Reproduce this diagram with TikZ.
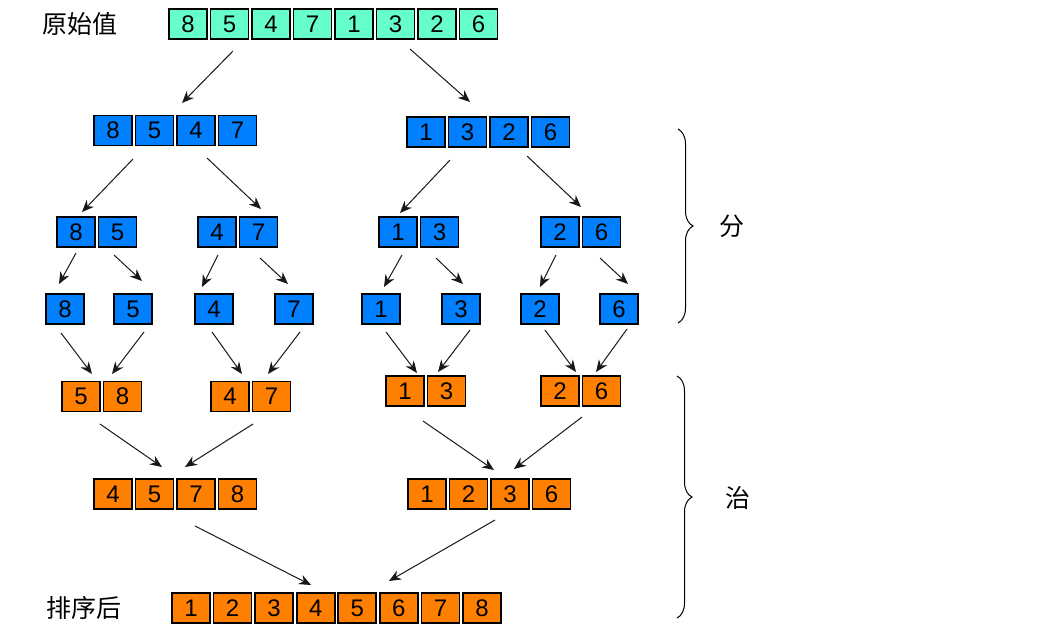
\documentclass[tikz,border=0pt]{standalone}
\usepackage{tikz}
\usetikzlibrary{
  arrows.meta,
  positioning,
  decorations.pathreplacing
}
\usepackage{xcolor}
\usepackage{fontspec}
\setmainfont{Liberation Sans}
\newfontfamily\cjk{Noto Sans CJK SC}
\definecolor{origTeal}{RGB}{102,255,204}
\definecolor{splitBlue}{RGB}{0,128,255}
\definecolor{mergeOrange}{RGB}{255,128,0}
\definecolor{arrowGray}{RGB}{24,24,24}
\tikzset{
  cell/.style={
    draw=black,
    line width=0.8pt,
    inner sep=0pt,
    minimum width=19pt,
    minimum height=15pt,
    font=\fontsize{12}{14}\selectfont
  },
  tealcell/.style={cell, fill=origTeal},
  bluecell/.style={cell, fill=splitBlue},
  orangecell/.style={cell, fill=mergeOrange},
  label/.style={font=\cjk\fontsize{12.5}{15}\selectfont, inner sep=0pt},
  brace/.style={
    draw=black, line width=0.5pt,
    decorate, decoration={brace, amplitude=7.5pt}
  }
}

\begin{document}
\begin{tikzpicture}[x=0.5pt, y=-0.5pt, >=Stealth]
    \useasboundingbox (0,0) rectangle (1049,634);

    % rows of cells
    \foreach \v [count=\i from 0] in {8,5,4,7,1,3,2,6}
      \node[tealcell] (orig\i) at ({188+41.5*\i},24) {\v};

    \foreach \v [count=\i from 0] in {8,5,4,7}
      \node[bluecell] (dl\i) at ({113+41.5*\i},130.5) {\v};
    \foreach \v [count=\i from 0] in {1,3,2,6}
      \node[bluecell] (dr\i) at ({426+41.5*\i},132) {\v};

    \foreach \v [count=\i from 0] in {8,5}
      \node[bluecell] (da\i) at ({76+41.5*\i},232) {\v};
    \foreach \v [count=\i from 0] in {4,7}
      \node[bluecell] (db\i) at ({217+41.5*\i},232) {\v};
    \foreach \v [count=\i from 0] in {1,3}
      \node[bluecell] (dc\i) at ({398+41.5*\i},232) {\v};
    \foreach \v [count=\i from 0] in {2,6}
      \node[bluecell] (dd\i) at ({560+41.5*\i},232) {\v};

    \foreach \v/\x [count=\i] in {8/46,5/114,4/195,7/275,1/362,3/442,2/521,6/600}
      \node[bluecell] (single\i) at ({\x+19},309) {\v};

    \foreach \v [count=\i from 0] in {5,8}
      \node[orangecell] (ma\i) at ({81+41.5*\i},396.5) {\v};
    \foreach \v [count=\i from 0] in {4,7}
      \node[orangecell] (mb\i) at ({230+41.5*\i},396.5) {\v};
    \foreach \v [count=\i from 0] in {1,3}
      \node[orangecell] (mc\i) at ({405+41.5*\i},391) {\v};
    \foreach \v [count=\i from 0] in {2,6}
      \node[orangecell] (md\i) at ({560+41.5*\i},391) {\v};

    \foreach \v [count=\i from 0] in {4,5,7,8}
      \node[orangecell] (ml\i) at ({113+41.5*\i},494) {\v};
    \foreach \v [count=\i from 0] in {1,2,3,6}
      \node[orangecell] (mr\i) at ({427+41.5*\i},494) {\v};

    \foreach \v [count=\i from 0] in {1,2,3,4,5,6,7,8}
      \node[orangecell] (sorted\i) at ({191+41.57*\i},608) {\v};

    % labels
    \node[label] (origLabel) at (80,24) {原始值};
    \node[label] (sortedLabel) at (84,608) {排序后};
    \node[label] (divLabel) at (732,226) {分};
    \node[label] (conqLabel) at (738,498) {治};

    % braces
    \coordinate (divTop) at (678,129);
    \coordinate (divBot) at (678,323);
    \coordinate (conqTop) at (677,376);
    \coordinate (conqBot) at (677,618);
    \draw[brace] (divTop) -- (divBot);
    \draw[brace] (conqTop) -- (conqBot);

    % arrow ends
    \coordinate (from1) at (233,51);   \coordinate (to1) at (182,103);
    \coordinate (from2) at (410,49);   \coordinate (to2) at (470,102);
    \coordinate (from3) at (133,159);  \coordinate (to3) at (82,212);
    \coordinate (from4) at (207,158);  \coordinate (to4) at (261,209);
    \coordinate (from5) at (450,160);  \coordinate (to5) at (400,213);
    \coordinate (from6) at (527,156);  \coordinate (to6) at (581,207);
    \coordinate (from7) at (76,253);   \coordinate (to7) at (59,284);
    \coordinate (from8) at (114,255);  \coordinate (to8) at (142,281);
    \coordinate (from9) at (218,255);  \coordinate (to9) at (202,287);
    \coordinate (from10) at (260,258); \coordinate (to10) at (288,284);
    \coordinate (from11) at (402,255); \coordinate (to11) at (384,287);
    \coordinate (from12) at (436,258); \coordinate (to12) at (463,284);
    \coordinate (from13) at (556,255); \coordinate (to13) at (540,287);
    \coordinate (from14) at (600,258); \coordinate (to14) at (628,284);
    \coordinate (from15) at (61,333);  \coordinate (to15) at (92,374);
    \coordinate (from16) at (144,332); \coordinate (to16) at (112,374);
    \coordinate (from17) at (212,332); \coordinate (to17) at (242,374);
    \coordinate (from18) at (300,332); \coordinate (to18) at (268,374);
    \coordinate (from19) at (386,332); \coordinate (to19) at (417,373);
    \coordinate (from20) at (470,330); \coordinate (to20) at (438,372);
    \coordinate (from21) at (545,330); \coordinate (to21) at (576,372);
    \coordinate (from22) at (627,329); \coordinate (to22) at (596,372);
    \coordinate (from23) at (100,424); \coordinate (to23) at (162,467);
    \coordinate (from24) at (253,424); \coordinate (to24) at (185,467);
    \coordinate (from25) at (423,421); \coordinate (to25) at (494,470);
    \coordinate (from26) at (582,417); \coordinate (to26) at (514,469);
    \coordinate (from27) at (195,526); \coordinate (to27) at (311,585);
    \coordinate (from28) at (495,520); \coordinate (to28) at (389,581);

    \path[every edge/.append style={
        draw=arrowGray, line width=0.5pt,
        -{Stealth[length=6pt,width=5pt]}}]
    \foreach \k in {1,...,28} {
      (from\k) edge (to\k)
    };
\end{tikzpicture}
\end{document}
